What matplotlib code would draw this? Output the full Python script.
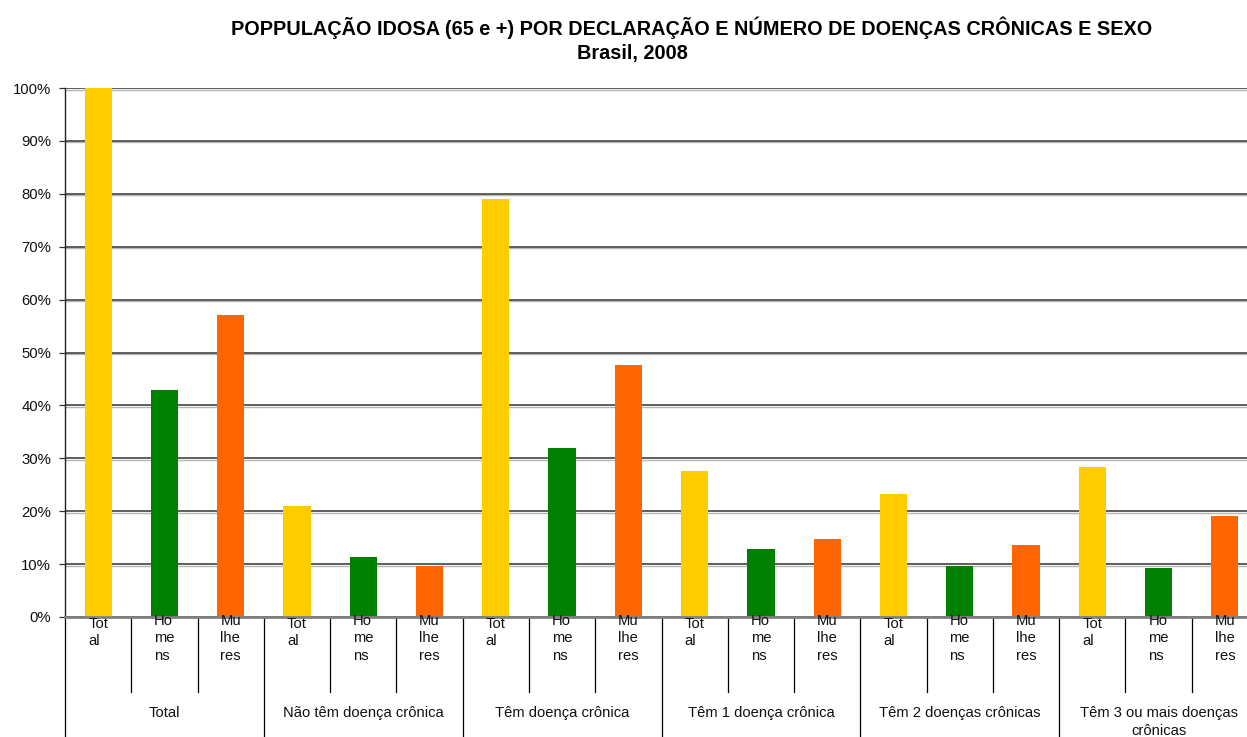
import matplotlib
matplotlib.use("Agg")
import matplotlib.pyplot as plt
from matplotlib.ticker import PercentFormatter, MultipleLocator
import matplotlib.transforms as mtransforms

plt.rcParams['font.family'] = ['Liberation Sans', 'DejaVu Sans']

groups = ["Total", "Não têm doença crônica", "Têm doença crônica",
          "Têm 1 doença crônica", "Têm 2 doenças crônicas",
          "Têm 3 ou mais doenças\ncrônicas"]
sub_labels = ["Tot\nal", "Ho\nme\nns", "Mu\nlhe\nres"]
total = [100.0, 21.0, 79.0, 27.6, 23.3, 28.4]
homens = [43.0, 11.3, 31.9, 12.9, 9.6, 9.3]
mulheres = [57.1, 9.7, 47.6, 14.7, 13.6, 19.1]
colors = ["#FFCC00", "#008000", "#FF6600"]
title = ("POPPULAÇÃO IDOSA (65 e +) POR DECLARAÇÃO E NÚMERO DE DOENÇAS CRÔNICAS E SEXO")
subtitle = "Brasil, 2008"

W, H = 1247, 737
fig = plt.figure(figsize=(W / 100, H / 100), dpi=100)
left, right, top, bottom = 65, 1258, 88, 617
ax = fig.add_axes([left / W, (H - bottom) / H, (right - left) / W, (bottom - top) / H])

series = [total, homens, mulheres]
for gi in range(len(groups)):
    for si in range(3):
        x = gi * 3 + si
        ax.bar(x, series[si][gi], width=0.41, color=colors[si], zorder=3)

n = len(groups) * 3
ax.set_xlim(-0.5, n - 0.5)
ax.set_ylim(0, 100)
ax.yaxis.set_major_locator(MultipleLocator(10))
ax.yaxis.set_major_formatter(PercentFormatter(decimals=0))
ax.grid(axis='y', color='#333333', lw=1.1, zorder=1)
shadow = mtransforms.offset_copy(ax.transData, fig=fig, x=0, y=-1.5, units='dots')
for v in range(10, 101, 10):
    ax.plot([-0.5, n - 0.5], [v, v], color='#b5b5b5', lw=1.0,
            transform=shadow, zorder=0.9)

ax.set_xticks([])
ax.tick_params(axis='y', length=4, width=0.9, color='#333333', pad=6,
               labelsize=10.7, labelcolor='#111111')
for s in ['top', 'right']:
    ax.spines[s].set_visible(False)
ax.spines['left'].set_color('#222222')
ax.spines['left'].set_linewidth(1.0)
ax.spines['bottom'].set_color('#808080')
ax.spines['bottom'].set_linewidth(2.0)
ax.spines['bottom'].set_zorder(4)

xt = ax.get_xaxis_transform()
axh = bottom - top
inner_y = -(692 - bottom) / axh
outer_y = -(H - bottom + 2) / axh
for b in range(n + 1):
    xb = b - 0.5
    yb = outer_y if b % 3 == 0 else inner_y
    ax.plot([xb, xb], [0, yb], color='black', lw=0.9, transform=xt, clip_on=False)

for gi, g in enumerate(groups):
    for si in range(3):
        x = gi * 3 + si
        lab = sub_labels[si]
        ytop = 617 if lab.count("\n") == 1 else 614
        ax.text(x, -(ytop - bottom) / axh, lab, transform=xt, ha='center', va='top',
                multialignment='left', fontsize=10.6, linespacing=1.3,
                color='#111111', zorder=5)
    ax.text(gi * 3 + 1, -(706 - bottom) / axh, g, transform=xt, ha='center',
            va='top', fontsize=10.6, linespacing=1.38, color='#111111')

fig.text(692 / W, 1 - 28 / H, title, ha='center', va='center',
         fontsize=14.3, fontweight='bold')
fig.text(632 / W, 1 - 53 / H, subtitle, ha='center', va='center',
         fontsize=14.3, fontweight='bold')

fig.savefig("out.png", dpi=100)
